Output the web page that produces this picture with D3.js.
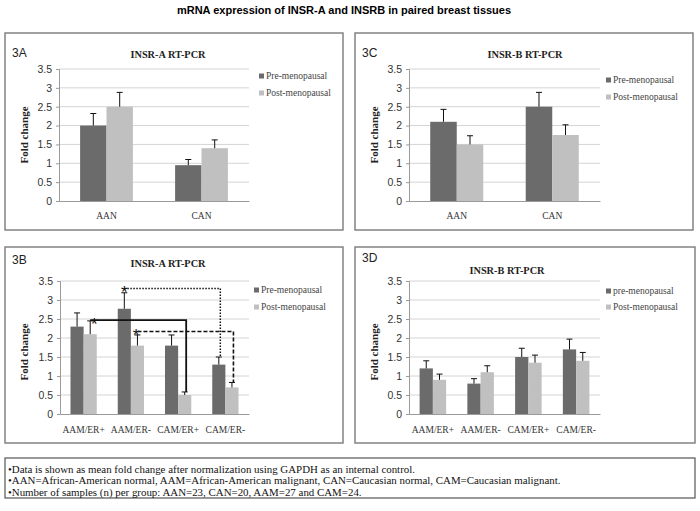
<!DOCTYPE html>
<html>
<head>
<meta charset="utf-8">
<script src="https://cdn.jsdelivr.net/npm/d3@7"></script>
<style>
body{margin:0;background:#fff;}
svg{display:block;}
</style>
</head>
<body>
<svg id="c" width="700" height="511"></svg>
<script>
// ---------- data ----------
const catsTop = ["AAN", "CAN"];
const catsBottom = ["AAM/ER+", "AAM/ER-", "CAM/ER+", "CAM/ER-"];
const yTicks = [0, 0.5, 1, 1.5, 2, 2.5, 3, 3.5];
const seriesNames = ["pre", "post"];

const preA = [2.0, 0.95], preAErr = [0.32, 0.15];
const postA = [2.5, 1.4], postAErr = [0.38, 0.22];

const preC = [2.1, 2.5], preCErr = [0.33, 0.38];
const postC = [1.5, 1.75], postCErr = [0.23, 0.27];

const preB = [2.3, 2.77, 1.8, 1.3], preBErr = [0.36, 0.42, 0.28, 0.2];
const postB = [2.1, 1.8, 0.5, 0.7], postBErr = [0.35, 0.28, 0.08, 0.13];

const preD = [1.2, 0.8, 1.5, 1.7], preDErr = [0.2, 0.13, 0.23, 0.27];
const postD = [0.9, 1.1, 1.35, 1.4], postDErr = [0.15, 0.17, 0.2, 0.22];

// significance brackets in 3B: [fromCat, fromSeries, toCat, toSeries, level, endLevel, style, starOffset]
const bracketsB = [
  ["AAM/ER+", "post", "CAM/ER+", "post", 2.47, 0.58, "solid", 4],
  ["AAM/ER-", "pre", "CAM/ER-", "pre", 3.3, 1.5, "dotted", 0],
  ["AAM/ER-", "post", "CAM/ER-", "post", 2.17, 0.83, "dashed", -1.5]
];

const mainTitle = "mRNA expression of INSR-A and INSRB in paired breast tissues";
const notes = [
  "\u2022Data is shown as mean fold change after normalization using GAPDH as an internal control.",
  "\u2022AAN=African-American normal, AAM=African-American malignant, CAN=Caucasian normal, CAM=Caucasian malignant.",
  "\u2022Number of samples  (n) per group: AAN=23, CAN=20, AAM=27 and CAM=24."
];

// ---------- styles ----------
const COL_PRE = "#6b6b6b", COL_POST = "#c0c0c0";
const SANS = "'Liberation Sans', Arial, sans-serif";
const SERIF = "'Liberation Serif', 'Times New Roman', serif";

const svg = d3.select("#c");

svg.append("text").attr("x", 344).attr("y", 14).attr("text-anchor", "middle")
  .style("font-family", SANS).style("font-weight", "bold").style("font-size", "11px")
  .text(mainTitle);

const panels = [
  {id: "3A", title: "INSR-A RT-PCR", cats: catsTop, pre: preA, preErr: preAErr, post: postA, postErr: postAErr,
   legend: ["Pre-menopausal", "Post-menopausal"],
   box: [5, 33, 343, 230], px: [59, 249], py: [201, 69], lab: [12, 57], tt: [168, 58], lg: [259, 76, 93], xl: 218.5, yt: [25, 135]},
  {id: "3C", title: "INSR-B RT-PCR", cats: catsTop, pre: preC, preErr: preCErr, post: postC, postErr: postCErr,
   legend: ["Pre-menopausal", "Post-menopausal"],
   box: [355, 33, 693, 230], px: [409, 600], py: [201, 69], lab: [362, 57], tt: [525, 58], lg: [606, 80, 97], xl: 218.5, yt: [375, 135]},
  {id: "3B", title: "INSR-A RT-PCR", cats: catsBottom, pre: preB, preErr: preBErr, post: postB, postErr: postBErr,
   legend: ["Pre-menopausal", "Post-menopausal"], brackets: bracketsB,
   box: [5, 247, 343, 443], px: [60, 249], py: [414, 281], lab: [12, 264], tt: [168, 266.5], lg: [254, 290, 307], xl: 432.5, yt: [25, 352]},
  {id: "3D", title: "INSR-B RT-PCR", cats: catsBottom, pre: preD, preErr: preDErr, post: postD, postErr: postDErr,
   legend: ["pre-menopausal", "Post-menopausal"],
   box: [355, 247, 695, 443], px: [409, 600], py: [414, 281], lab: [362, 262], tt: [507, 274], lg: [606, 291, 307], xl: 432.5, yt: [375, 352]}
];

panels.forEach(p => {
  const g = svg.append("g");
  const [bx0, by0, bx1, by1] = p.box;
  g.append("rect").attr("x", bx0).attr("y", by0).attr("width", bx1 - bx0).attr("height", by1 - by0)
    .attr("fill", "none").attr("stroke", "#7a7a7a").attr("stroke-width", 1.4);

  g.append("text").attr("x", p.lab[0]).attr("y", p.lab[1])
    .style("font-family", SANS).style("font-size", "12px").attr("fill", "#222").text(p.id);
  g.append("text").attr("x", p.tt[0]).attr("y", p.tt[1]).attr("text-anchor", "middle")
    .style("font-family", SERIF).style("font-weight", "bold").style("font-size", "10.3px").attr("fill", "#222").text(p.title);

  const y = d3.scaleLinear().domain([0, 3.5]).range(p.py);
  const x0 = d3.scaleBand().domain(p.cats).range(p.px).paddingInner(0).paddingOuter(0);
  const gw = x0.bandwidth() / 1.8; // group width
  const x1 = d3.scaleBand().domain(seriesNames).range([(x0.bandwidth() - gw) / 2, (x0.bandwidth() + gw) / 2]);

  // gridlines
  g.append("g").selectAll("line").data(yTicks.filter(t => t > 0)).join("line")
    .attr("x1", p.px[0]).attr("x2", p.px[1]).attr("y1", d => y(d)).attr("y2", d => y(d))
    .attr("stroke", "#d4d4d4").attr("stroke-width", 1);

  // y axis
  const ya = g.append("g").attr("transform", `translate(${p.px[0]},0)`)
    .call(d3.axisLeft(y).tickValues(yTicks).tickFormat(d3.format("")).tickSize(3).tickPadding(4));
  ya.select(".domain").attr("stroke", "#9a9a9a");
  ya.selectAll(".tick line").attr("stroke", "#9a9a9a");
  ya.selectAll("text").style("font-family", SANS).style("font-size", "10.5px").attr("fill", "#333");

  // x axis
  const xa = g.append("g").attr("transform", `translate(0,${p.py[0]})`)
    .call(d3.axisBottom(x0).tickSize(0).tickPadding(0).tickSizeOuter(0));
  xa.select(".domain").attr("stroke", "#9a9a9a");
  xa.selectAll("text").attr("y", p.xl - p.py[0]).attr("dy", 0)
    .style("font-family", SERIF).style("font-size", "9.5px").attr("fill", "#333");

  // y title
  g.append("text").attr("transform", `translate(${p.yt[0] + 3},${p.yt[1]}) rotate(-90)`)
    .attr("text-anchor", "middle").style("font-family", SERIF).style("font-weight", "bold")
    .style("font-size", "11px").attr("fill", "#222").text("Fold change");

  const rows = [];
  p.cats.forEach((c, i) => {
    rows.push({c, s: "pre", v: p.pre[i], e: p.preErr[i], col: COL_PRE});
    rows.push({c, s: "post", v: p.post[i], e: p.postErr[i], col: COL_POST});
  });
  const bx = d => x0(d.c) + x1(d.s);
  const cx = (c, s) => x0(c) + x1(s) + x1.bandwidth() / 2;

  g.append("g").selectAll("rect").data(rows).join("rect")
    .attr("x", bx).attr("width", x1.bandwidth())
    .attr("y", d => y(d.v)).attr("height", d => y(0) - y(d.v)).attr("fill", d => d.col);

  // error bars (upper only)
  const eg = g.append("g").attr("stroke", "#111").attr("stroke-width", 1);
  eg.selectAll("line.v").data(rows).join("line").attr("class", "v")
    .attr("x1", d => cx(d.c, d.s)).attr("x2", d => cx(d.c, d.s))
    .attr("y1", d => y(d.v)).attr("y2", d => y(d.v + d.e));
  eg.selectAll("line.h").data(rows).join("line").attr("class", "h")
    .attr("x1", d => cx(d.c, d.s) - 3).attr("x2", d => cx(d.c, d.s) + 3)
    .attr("y1", d => y(d.v + d.e)).attr("y2", d => y(d.v + d.e));

  // legend
  const lg = g.append("g");
  p.legend.forEach((name, i) => {
    const yy = p.lg[1 + i];
    lg.append("rect").attr("x", p.lg[0]).attr("y", yy - 2.5).attr("width", 5).attr("height", 5)
      .attr("fill", i === 0 ? COL_PRE : COL_POST);
    lg.append("text").attr("x", p.lg[0] + 7).attr("y", yy + 3)
      .style("font-family", SERIF).style("font-size", "9.5px").attr("fill", "#444").text(name);
  });

  // brackets
  if (p.brackets) {
    const bg = g.append("g").attr("fill", "none");
    p.brackets.forEach(b => {
      const [fc, fs, tc, ts, lev, endLev, style, so] = b;
      const xs = cx(fc, fs), xe = cx(tc, ts) + 1.5;
      const path = d3.path();
      path.moveTo(xs, y(lev));
      path.lineTo(xe, y(lev));
      path.lineTo(xe, y(endLev));
      const el = bg.append("path").attr("d", path.toString()).attr("stroke", "#111");
      if (style === "solid") el.attr("stroke-width", 1.8);
      if (style === "dotted") el.attr("stroke-width", 1.5).attr("stroke-dasharray", "1.5,1.5");
      if (style === "dashed") el.attr("stroke-width", 1.6).attr("stroke-dasharray", "4,2");
      g.append("text").attr("x", xs + so).attr("y", y(lev) + 9.5).attr("text-anchor", "middle")
        .style("font-family", SANS).style("font-size", "17px").attr("fill", "#111").text("*");
    });
  }
});

// footnote box
svg.append("rect").attr("x", 5).attr("y", 458).attr("width", 690).attr("height", 40)
  .attr("fill", "none").attr("stroke", "#555").attr("stroke-width", 1.2);
svg.append("g").selectAll("text").data(notes).join("text")
  .attr("x", 8).attr("y", (d, i) => 472.5 + i * 11.5)
  .style("font-family", SERIF).style("font-size", "10.9px").attr("fill", "#111").text(d => d);
</script>
</body>
</html>
